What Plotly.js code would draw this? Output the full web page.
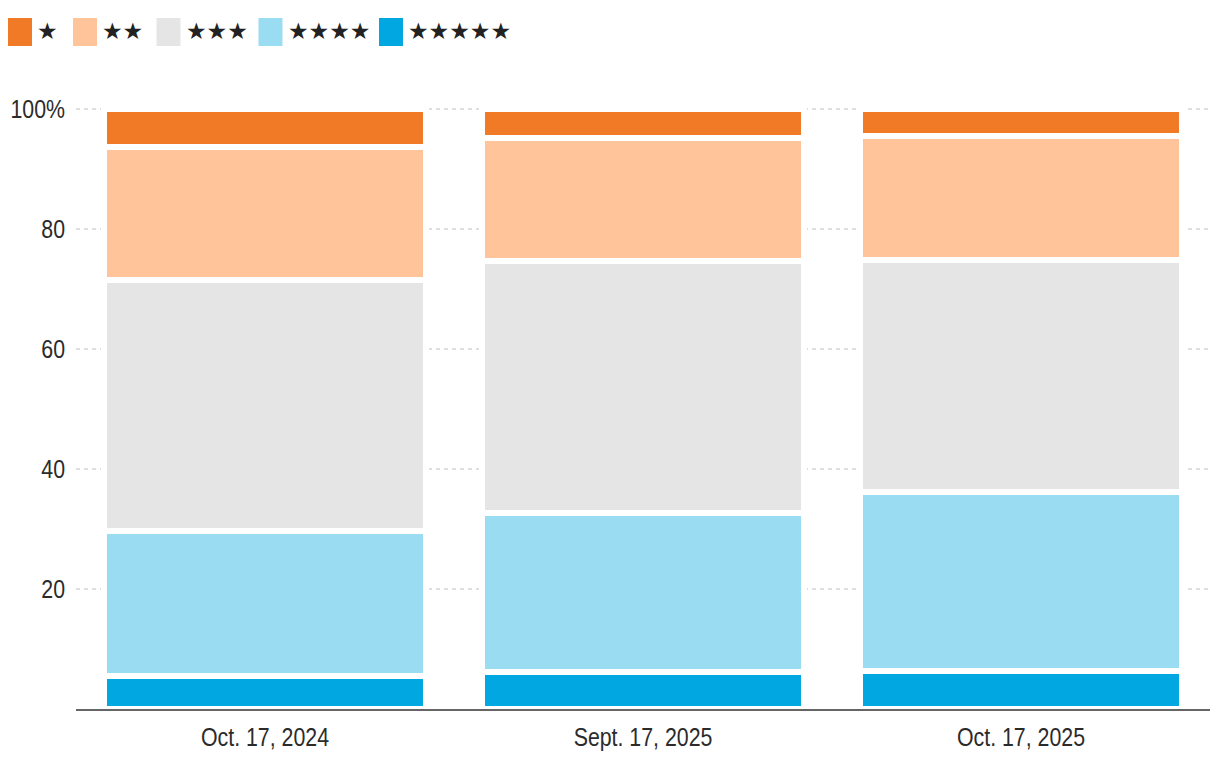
<!DOCTYPE html>
<html>
<head>
<meta charset="utf-8">
<script src="https://cdn.plot.ly/plotly-3.0.1.min.js"></script>
<style>
  html, body { margin: 0; padding: 0; background: #fff; }
  #chart { width: 1220px; height: 774px; }
</style>
</head>
<body>
<div id="chart"></div>
<script>
// ---- data ----
const categories = ["Oct. 17, 2024", "Sept. 17, 2025", "Oct. 17, 2025"];
const seriesNames = ["★", "★★", "★★★", "★★★★", "★★★★★"];
const oneStar   = [6.4, 4.9, 4.55];
const twoStar   = [22.15, 20.5, 20.65];
const threeStar = [41.85, 42.0, 38.7];
const fourStar  = [24.15, 26.5, 29.8];
const fiveStar  = [5.45, 6.1, 6.3];
const seriesColors = ["#F07A26", "#FFC499", "#E5E5E5", "#9ADDF3", "#00A7E1"];
const yTickVals = [20, 40, 60, 80, 100];
const yTickText = ["20", "40", "60", "80", "100%"];

// ---- traces (stack bottom: 5 stars, top: 1 star) ----
const seriesValues = [oneStar, twoStar, threeStar, fourStar, fiveStar];
const traces = [];
for (let i = seriesValues.length - 1; i >= 0; i--) {
  traces.push({
    type: "bar",
    name: seriesNames[i],
    x: categories,
    y: seriesValues[i],
    marker: { color: seriesColors[i], line: { color: "#ffffff", width: 6 } },
    hoverinfo: "skip",
    showlegend: false
  });
}

// ---- custom legend (shapes + annotations), pixel layout converted to paper ----
const W = 1220, H = 774;
const M = { l: 76, r: 10, t: 97, b: 65 };
const pw = W - M.l - M.r, ph = H - M.t - M.b;
const px2x = p => (p - M.l) / pw;
const py2y = p => (H - M.b - p) / ph;

const shapes = [];
const annotations = [];
let left = 8;
const starAdvance = 18.5;
for (let i = 0; i < seriesNames.length; i++) {
  shapes.push({
    type: "rect", xref: "paper", yref: "paper",
    x0: px2x(left), x1: px2x(left + 24),
    y0: py2y(46), y1: py2y(18),
    fillcolor: seriesColors[i], line: { width: 0 }
  });
  annotations.push({
    xref: "paper", yref: "paper",
    x: px2x(left + 27), y: py2y(31),
    xanchor: "left", yanchor: "middle",
    text: seriesNames[i], showarrow: false,
    font: { family: "DejaVu Sans", size: 23, color: "#222" }
  });
  left = left + 30 + seriesNames[i].length * starAdvance + 16.5;
}

const tickFont = { family: "Liberation Sans, Arial, sans-serif", size: 26, color: "#2b2b2b" };

const layout = {
  width: W, height: H,
  margin: M,
  paper_bgcolor: "#fff", plot_bgcolor: "#fff",
  barmode: "stack",
  bargap: 0.15,
  showlegend: false,
  xaxis: {
    showline: true, linecolor: "#666", linewidth: 2,
    showgrid: false, ticks: "", tickfont: tickFont,
    ticklabelstandoff: 4,
    fixedrange: true
  },
  yaxis: {
    range: [0, 102],
    tickvals: yTickVals, ticktext: yTickText,
    showgrid: true, gridcolor: "#dedede", gridwidth: 2, griddash: "4px,4px",
    zeroline: false, showline: false, ticks: "",
    tickfont: tickFont, ticklabelstandoff: 10,
    fixedrange: true
  },
  shapes: shapes,
  annotations: annotations
};

// condense tick labels horizontally (narrow typeface look)
function condenseTicks() {
  const ratio = 0.82;
  document.querySelectorAll("#chart .xtick text, #chart .ytick text").forEach(t => {
    const len = t.getComputedTextLength();
    t.setAttribute("textLength", (len * ratio).toFixed(2));
    t.setAttribute("lengthAdjust", "spacingAndGlyphs");
  });
}

Plotly.newPlot("chart", traces, layout, { displayModeBar: false, staticPlot: true }).then(condenseTicks);
</script>
</body>
</html>
